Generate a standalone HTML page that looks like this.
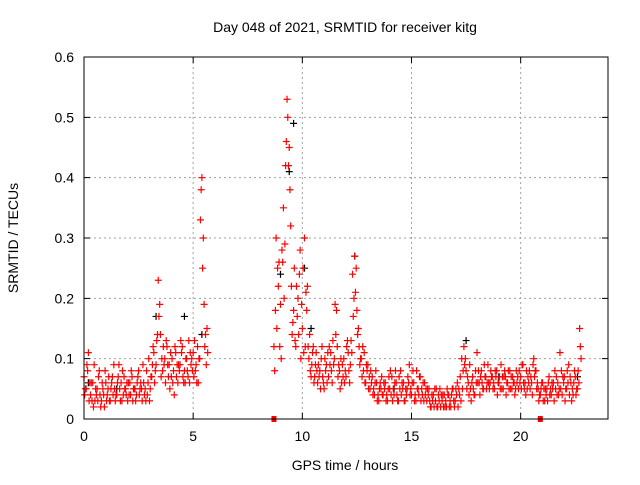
<!DOCTYPE html>
<html><head><meta charset="utf-8"><style>
body{margin:0;background:#fff;width:640px;height:480px;overflow:hidden}
svg text{font-family:"Liberation Sans",sans-serif;font-size:14px;fill:#000}
</style></head><body>
<svg id="chart" width="640" height="480" xmlns="http://www.w3.org/2000/svg">
<rect width="640" height="480" fill="#fff"/>
<text x="345" y="32" text-anchor="middle">Day 048 of 2021, SRMTID for receiver kitg</text>
<text x="345" y="470" text-anchor="middle">GPS time / hours</text>
<text transform="translate(18,238) rotate(-90)" text-anchor="middle">SRMTID / TECUs</text>
<g id="grid"></g><g id="ticks"></g><g id="marks"></g>
<rect x="84" y="57" width="524" height="362" fill="none" stroke="#000" stroke-width="1"/>
</svg>
<script>
const xTicks=[0,5,10,15,20];
const yTicks=[0,0.1,0.2,0.3,0.4,0.5,0.6];
const yTickLabels=["0","0.1","0.2","0.3","0.4","0.5","0.6"];
const seg1Start=0, seg2Start=8.7, stepHours=0.1;
const seg1A=[0.07,0.05,0.11,0.04,0.06,0.03,0.05,0.08,0.03,0.04,
0.06,0.05,0.03,0.07,0.05,0.04,0.09,0.06,0.04,0.05,
0.03,0.06,0.07,0.05,0.04,0.08,0.06,0.09,0.05,0.04,
0.03,0.07,0.11,0.09,0.23,0.14,0.08,0.10,0.12,0.09,
0.07,0.08,0.11,0.06,0.09,0.12,0.08,0.10,0.13,0.09,
0.11,0.08,0.12,0.10,0.40,0.19,0.09];
const seg1B=[0.04,0.09,0.03,0.06,0.02,0.05,0.03,0.04,0.06,0.02,
0.03,0.07,0.05,0.04,0.03,0.06,0.05,0.03,0.07,0.04,
0.06,0.04,0.03,0.05,0.06,0.04,0.05,0.06,0.03,0.06,
0.05,0.09,0.06,0.13,0.17,0.07,0.12,0.06,0.09,0.05,
0.10,0.04,0.07,0.09,0.13,0.07,0.06,0.08,0.06,0.10,
0.07,0.09,0.06,0.33,0.25,0.12,0.15];
const seg1C=[0.05,0.08,0.06,0.03,0.09,0.04,0.07,0.02,0.05,0.08,
0.04,0.03,0.06,0.09,0.04,0.07,0.03,0.08,0.05,0.06,
0.04,0.08,0.05,0.03,0.07,0.05,0.03,0.04,0.08,0.10,
0.07,0.12,0.08,0.14,0.19,0.10,0.09,0.13,0.07,0.11,
0.06,0.12,0.09,0.08,0.11,0.06,0.10,0.07,0.11,0.08,
0.13,0.06,0.10,0.38,0.30,0.14,0.11];
const seg2A=[0.12,0.30,0.22,0.19,0.26,0.29,0.53,0.45,0.22,0.18,
0.12,0.20,0.28,0.15,0.30,0.18,0.10,0.07,0.12,0.09,
0.06,0.08,0.12,0.05,0.09,0.07,0.11,0.13,0.19,0.12,
0.08,0.06,0.10,0.07,0.11,0.09,0.24,0.27,0.18,0.12,
0.10,0.08,0.06,0.09,0.05,0.07,0.04,0.06,0.03,0.05,
0.04,0.06,0.03,0.05,0.07,0.04,0.06,0.03,0.08,0.05,
0.03,0.05,0.09,0.04,0.06,0.03,0.05,0.07,0.04,0.06,
0.03,0.05,0.02,0.04,0.03,0.02,0.05,0.03,0.04,0.02,
0.04,0.02,0.05,0.03,0.06,0.04,0.10,0.12,0.08,0.06,
0.05,0.07,0.04,0.11,0.06,0.08,0.05,0.07,0.09,0.06,
0.07,0.05,0.08,0.06,0.09,0.05,0.07,0.06,0.08,0.05,
0.06,0.08,0.05,0.07,0.09,0.06,0.05,0.08,0.06,0.10,
0.08,0.05,0.04,0.06,0.03,0.05,0.07,0.04,0.06,0.05,
0.06,0.11,0.04,0.07,0.05,0.09,0.06,0.04,0.07,0.05,
0.15];
const seg2B=[0.08,0.15,0.26,0.10,0.35,0.42,0.50,0.38,0.14,0.25,
0.22,0.14,0.10,0.25,0.12,0.22,0.14,0.09,0.06,0.11,
0.09,0.05,0.07,0.10,0.06,0.12,0.08,0.09,0.14,0.07,
0.05,0.09,0.06,0.12,0.08,0.13,0.17,0.21,0.14,0.09,
0.07,0.11,0.09,0.05,0.08,0.04,0.06,0.03,0.05,0.07,
0.06,0.03,0.05,0.08,0.03,0.06,0.04,0.07,0.04,0.06,
0.05,0.07,0.04,0.06,0.03,0.08,0.04,0.03,0.06,0.04,
0.05,0.03,0.04,0.02,0.05,0.04,0.02,0.04,0.02,0.05,
0.02,0.04,0.03,0.05,0.02,0.07,0.05,0.09,0.05,0.04,
0.03,0.05,0.08,0.06,0.04,0.06,0.09,0.05,0.06,0.08,
0.05,0.08,0.04,0.07,0.05,0.07,0.04,0.08,0.05,0.07,
0.04,0.06,0.08,0.05,0.06,0.04,0.07,0.05,0.04,0.07,
0.05,0.03,0.05,0.03,0.05,0.03,0.04,0.06,0.03,0.07,
0.04,0.05,0.07,0.03,0.08,0.04,0.03,0.06,0.04,0.08,
0.12];
const seg2C=[0.18,0.25,0.12,0.28,0.20,0.46,0.42,0.32,0.16,0.13,
0.17,0.24,0.19,0.11,0.21,0.12,0.08,0.11,0.07,0.08,
0.07,0.10,0.06,0.08,0.11,0.09,0.06,0.10,0.18,0.09,
0.10,0.07,0.08,0.13,0.06,0.11,0.20,0.25,0.15,0.10,
0.12,0.06,0.08,0.07,0.06,0.05,0.08,0.04,0.06,0.04,
0.05,0.04,0.07,0.04,0.05,0.08,0.03,0.05,0.06,0.03,
0.04,0.06,0.05,0.08,0.04,0.05,0.07,0.05,0.03,0.05,
0.04,0.02,0.03,0.05,0.02,0.03,0.04,0.02,0.03,0.04,
0.03,0.05,0.02,0.04,0.05,0.03,0.08,0.10,0.07,0.09,
0.06,0.04,0.06,0.08,0.07,0.05,0.07,0.06,0.05,0.07,
0.06,0.07,0.06,0.05,0.07,0.08,0.06,0.05,0.07,0.06,
0.05,0.07,0.06,0.09,0.05,0.08,0.06,0.07,0.09,0.08,
0.06,0.04,0.06,0.05,0.04,0.06,0.05,0.05,0.08,0.04,
0.05,0.08,0.06,0.05,0.06,0.07,0.05,0.08,0.05,0.06,
0.10];
const blackHours=[0.2,1.5,3.3,4.6,5.4,9.0,9.4,9.6,10.1,10.4,12.4,14.2,17.5,19.0,22.6];
const blackVals=[0.06,0.05,0.17,0.17,0.14,0.24,0.41,0.49,0.25,0.15,0.27,0.05,0.13,0.07,0.07];
const zeroHours=[8.7,20.9];

const NS="http://www.w3.org/2000/svg";
const X0=84,X1=608,Y0=419,Y1=57;
const xs=h=>X0+h/24*(X1-X0);
const ys=v=>Y0-v/0.6*(Y0-Y1);
function mk(tag,attrs,parent){const e=document.createElementNS(NS,tag);for(const k in attrs)e.setAttribute(k,attrs[k]);parent.appendChild(e);return e;}
const grid=document.getElementById('grid'),ticks=document.getElementById('ticks'),marks=document.getElementById('marks');
xTicks.forEach(t=>{const x=xs(t);
 if(t>0){const g=mk('line',{x1:x,x2:x,y1:Y1,y2:Y0,stroke:'#a0a0a0','stroke-dasharray':'2,3'},grid);
 
 }
 const tk=mk('path',{d:`M${x},${Y0}v-6M${x},${Y1}v6`,stroke:'#000'},ticks);
 
 
 const l=mk('text',{x:x,y:Y0+22,'text-anchor':'middle'},ticks);l.textContent=t;
 
 
});
yTicks.forEach((t,i)=>{const y=ys(t);
 if(t>0&&t<0.6){const g=mk('line',{x1:X0,x2:X1,y1:y,y2:y,stroke:'#a0a0a0','stroke-dasharray':'2,3'},grid);
 
 }
 const tk=mk('path',{d:`M${X0},${y}h6M${X1},${y}h-6`,stroke:'#000'},ticks);
 
 
 const l=mk('text',{x:X0-10,y:y+5,'text-anchor':'end'},ticks);l.textContent=yTickLabels[i];
 
 
});
function plus(h,v,color,name){const x=xs(h),y=ys(v);
 const p=mk('path',{d:`M${x-3.5},${y}h7M${x},${y-3.5}v7`,stroke:color,'stroke-width':1.2},marks);
 
 }
blackHours.forEach((h,i)=>plus(h,blackVals[i],'#000','black-point'));
seg1A.forEach((v,i)=>plus(seg1Start+i*stepHours,v,'#f00','red-point'));
seg1B.forEach((v,i)=>plus(seg1Start+i*stepHours+0.033,v,'#f00','red-point'));
seg1C.forEach((v,i)=>plus(seg1Start+i*stepHours+0.066,v,'#f00','red-point'));
seg2A.forEach((v,i)=>plus(seg2Start+i*stepHours,v,'#f00','red-point'));
seg2B.forEach((v,i)=>plus(seg2Start+i*stepHours+0.033,v,'#f00','red-point'));
seg2C.forEach((v,i)=>plus(seg2Start+i*stepHours+0.066,v,'#f00','red-point'));
zeroHours.forEach(h=>{const r=mk('rect',{x:xs(h)-2.5,y:Y0-3,width:5,height:6,fill:'#f00'},marks);
 
 });
</script>
</body></html>
